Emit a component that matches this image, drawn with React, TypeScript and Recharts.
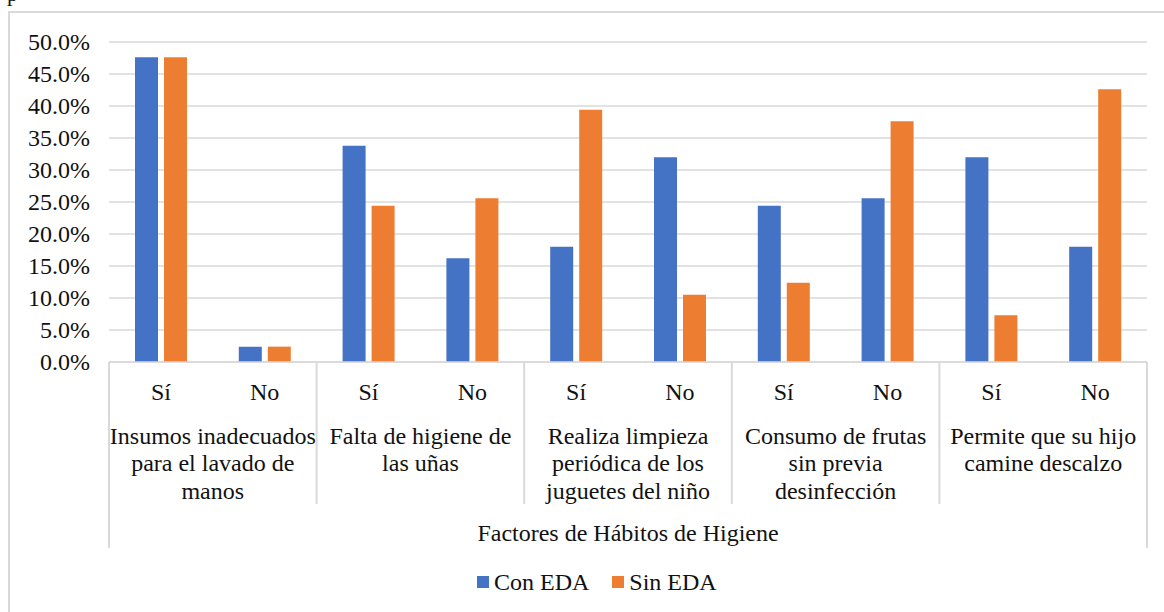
import { BarChart, Bar, XAxis, YAxis, CartesianGrid, Legend } from "recharts";

const subLabels = ["Sí", "No", "Sí", "No", "Sí", "No", "Sí", "No", "Sí", "No"];
const groupLabels = [
  ["Insumos inadecuados", "para el lavado de", "manos"],
  ["Falta de higiene de", "las uñas"],
  ["Realiza limpieza", "periódica de los", "juguetes del niño"],
  ["Consumo de frutas", "sin previa", "desinfección"],
  ["Permite que su hijo", "camine descalzo"],
];
const conEda = [47.6, 2.4, 33.8, 16.2, 18.0, 32.0, 24.4, 25.6, 32.0, 18.0];
const sinEda = [47.6, 2.4, 24.4, 25.6, 39.4, 10.5, 12.4, 37.6, 7.3, 42.6];
const yTicks = [0, 5, 10, 15, 20, 25, 30, 35, 40, 45, 50];
const axisTitle = "Factores de Hábitos de Higiene";

const data = subLabels.map((sub, i) => ({
  sub,
  con: conEda[i],
  sin: sinEda[i],
}));

const FONT = "Liberation Serif, DejaVu Serif, serif";
const FS = 24;
const INK = "#111";
const RULE = "#d9d9d9";
const BLUE = "#4472C4";
const ORANGE = "#ED7D31";

function PercentTick(props: any) {
  const { x, y, payload } = props;
  return (
    <text x={x} y={y} dy="0.35em" textAnchor="end" style={{ fontFamily: FONT }} fontSize={FS} fill={INK}>
      {payload.value.toFixed(1)}%
    </text>
  );
}

// two-level category axis: Sí/No per bar, then the group caption and separators
function CategoryTick(props: any) {
  const { x, y, payload } = props;
  const i: number = payload.index ?? props.index;
  const half: number = payload.offset ?? 52;
  const last = i === subLabels.length - 1;
  return (
    <g style={{ fontFamily: FONT }}>
      <text x={x} y={y + 37.5} textAnchor="middle" fontSize={FS} fill={INK}>
        {payload.value}
      </text>
      {i % 2 === 0 && (
        <line x1={x - half} x2={x - half} y1={y} y2={y + (i === 0 ? 186 : 142)} stroke={RULE} strokeWidth={2} />
      )}
      {last && <line x1={x + half} x2={x + half} y1={y} y2={y + 186} stroke={RULE} strokeWidth={2} />}
      {i % 2 === 1 &&
        groupLabels[(i - 1) / 2].map((ln, k) => (
          <text key={k} x={x - half} y={y + 81.5 + k * 27.5} textAnchor="middle" fontSize={FS} fill={INK}>
            {ln}
          </text>
        ))}
    </g>
  );
}

function LegendContent(props: any) {
  const items = props.payload || [];
  return (
    <div style={{ display: "flex", alignItems: "center", fontFamily: FONT, fontSize: FS, color: INK, lineHeight: "24px" }}>
      {items.map((it: any, k: number) => (
        <div key={k} style={{ display: "flex", alignItems: "center", marginRight: 23 }}>
          <span style={{ width: 12, height: 12, background: it.color, marginRight: 5, display: "inline-block" }} />
          <span>{it.value}</span>
        </div>
      ))}
    </div>
  );
}

export default function App() {
  return (
    <div style={{ position: "relative", width: 1164, height: 612, overflow: "hidden", background: "#fff", fontFamily: FONT }}>
      <style>{"body{margin:0}"}</style>
      <svg width={40} height={12} style={{ position: "absolute", left: 0, top: 0 }}>
        <text x={7} y={1} style={{ fontFamily: FONT }} fontSize={22} fill={INK}>
          p
        </text>
      </svg>
      <div
        style={{
          position: "absolute",
          left: 8,
          top: 11,
          width: 1220,
          height: 700,
          border: `2px solid ${RULE}`,
        }}
      />
      <div style={{ position: "absolute", left: 0, top: 0 }}>
        <BarChart
          width={1164}
          height={612}
          data={data}
          margin={{ top: 42, right: 17, left: 9, bottom: 0 }}
          barSize={23}
          barGap={6}
        >
          <CartesianGrid vertical={false} stroke={RULE} strokeWidth={1.5} />
          <YAxis
            domain={[0, 50]}
            ticks={yTicks}
            width={100}
            axisLine={false}
            tickLine={false}
            tickSize={0}
            tickMargin={19}
            tick={<PercentTick />}
          />
          <XAxis
            dataKey="sub"
            height={250}
            interval={0}
            axisLine={{ stroke: RULE, strokeWidth: 1.5 }}
            tickLine={false}
            tickSize={0}
            tickMargin={0}
            tick={<CategoryTick />}
            label={{
              value: axisTitle,
              position: "insideTop",
              offset: 162,
              style: { fontFamily: FONT },
              fontSize: FS,
              fill: INK,
            }}
          />
          <Legend
            verticalAlign="middle"
            layout="horizontal"
            wrapperStyle={{ top: 570, left: 477, width: 320 }}
            content={<LegendContent />}
          />
          <Bar dataKey="con" name="Con EDA" fill={BLUE} isAnimationActive={false} />
          <Bar dataKey="sin" name="Sin EDA" fill={ORANGE} isAnimationActive={false} />
        </BarChart>
      </div>
    </div>
  );
}
